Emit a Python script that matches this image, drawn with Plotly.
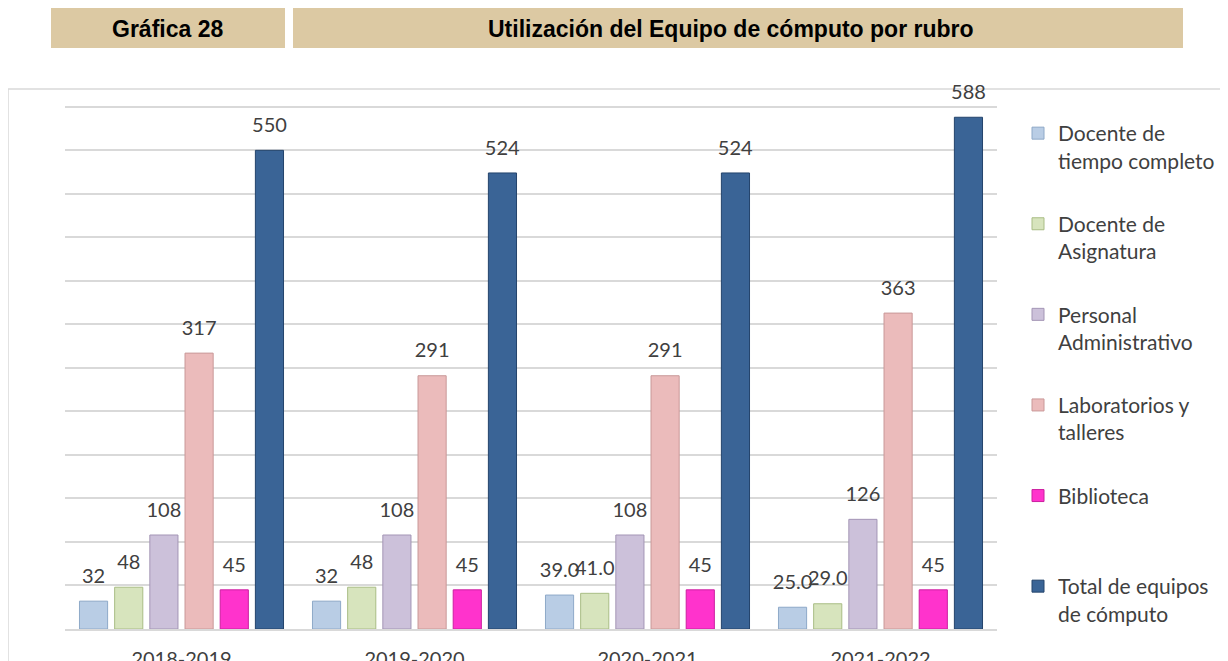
import plotly.graph_objects as go

periods = ["2018-2019", "2019-2020", "2020-2021", "2021-2022"]
series_names = [
    "Docente de<br>tiempo completo",
    "Docente de<br>Asignatura",
    "Personal<br>Administrativo",
    "Laboratorios y<br>talleres",
    "Biblioteca<br> ",
    "Total de equipos<br>de cómputo",
]
docente_tc = [32, 32, 39, 25]
docente_asig = [48, 48, 41, 29]
personal_adm = [108, 108, 108, 126]
laboratorios = [317, 291, 291, 363]
biblioteca = [45, 45, 45, 45]
total = [550, 524, 524, 588]

labels_tc = ["32", "32", "39.0", "25.0"]
labels_asig = ["48", "48", "41.0", "29.0"]
labels_adm = ["108", "108", "108", "126"]
labels_lab = ["317", "291", "291", "363"]
labels_bib = ["45", "45", "45", "45"]
labels_tot = ["550", "524", "524", "588"]

values = [docente_tc, docente_asig, personal_adm, laboratorios, biblioteca, total]
labels = [labels_tc, labels_asig, labels_adm, labels_lab, labels_bib, labels_tot]
fills = ["#B9CDE5", "#D7E4BD", "#CCC1DA", "#EBBBBB", "#FF33CC", "#3A6496"]
edges = ["#8EA9C8", "#A9BD85", "#A395B5", "#C99898", "#CC1FA0", "#24446C"]

# page has an 8px body margin; screen coords -> figure coords
OFF = 8
W, H = 1220, 653
YMAX = 640
L, R, B = 57, 231, 32
UNIT = 522 / 600           # px per value unit (gridlines every 50 -> 43.5 px)
T = round(H - B - YMAX * UNIT)
pw, ph = W - L - R, H - T - B


def px(x):
    return (x - OFF - L) / pw


def py(y):
    return (H - B - (y - OFF)) / ph


fig = go.Figure()
for i in range(6):
    fig.add_trace(go.Bar(
        x=periods, y=values[i], name=series_names[i],
        marker=dict(color=fills[i], line=dict(color=edges[i], width=1)),
        legendgroup=f"g{i}", hoverinfo="x+y",
    ))
# label carriers: transparent copies on an overlaid, slightly shifted axis so
# the value labels sit a little higher above the bars (as in the original)
for i in range(6):
    fig.add_trace(go.Bar(
        x=periods, y=values[i], yaxis="y2",
        text=labels[i], textposition="outside", constraintext="none",
        textfont=dict(family="Lato", size=20, color="#404040"),
        cliponaxis=False, showlegend=False, hoverinfo="skip",
        marker=dict(color="rgba(0,0,0,0)", line=dict(width=0)),
    ))

shapes = [
    dict(type="rect", xref="paper", yref="paper",
         x0=px(8), x1=px(1260), y0=py(89), y1=py(700),
         line=dict(color="#D9D9D9", width=1.5), fillcolor="rgba(0,0,0,0)", layer="below"),
    dict(type="rect", xref="paper", yref="paper",
         x0=px(51), x1=px(285), y0=py(7), y1=py(48),
         line=dict(width=0), fillcolor="#DCC9A3", layer="below"),
    dict(type="rect", xref="paper", yref="paper",
         x0=px(293), x1=px(1183), y0=py(7), y1=py(48),
         line=dict(width=0), fillcolor="#DCC9A3", layer="below"),
]

annotations = [
    dict(text="<b>Gráfica 28</b>", xref="paper", yref="paper", x=px(167), y=py(29),
         showarrow=False, font=dict(family="Liberation Sans", size=23, color="#000000"),
         xanchor="center", yanchor="middle"),
    dict(text="<b>Utilización del Equipo de cómputo por rubro</b>", xref="paper", yref="paper",
         x=px(731), y=py(29), showarrow=False,
         font=dict(family="Liberation Sans", size=23, color="#000000"),
         xanchor="center", yanchor="middle"),
]

fig.update_layout(
    width=W, height=H,
    margin=dict(l=L, r=R, t=T, b=B, autoexpand=False),
    paper_bgcolor="#FFFFFF", plot_bgcolor="#FFFFFF",
    barmode="group", bargap=0.094, bargroupgap=0.2,
    showlegend=True,
    legend=dict(x=px(1018), y=py(113), xanchor="left", yanchor="top",
                font=dict(family="Lato", size=21, color="#404040"),
                tracegroupgap=33, valign="top", bgcolor="rgba(0,0,0,0)"),
    shapes=shapes, annotations=annotations,
    font=dict(family="Lato", color="#404040"),
    yaxis=dict(range=[0, YMAX], dtick=50, showgrid=True,
               gridcolor="#D9D9D9", gridwidth=1.5,
               showticklabels=False, zeroline=False, showline=False,
               fixedrange=True),
    yaxis2=dict(overlaying="y", range=[-13, YMAX - 13], visible=False, fixedrange=True),
)
fig.update_xaxes(showline=True, linecolor="#D9D9D9", linewidth=1.5,
                 ticks="outside", ticklen=11, tickcolor="rgba(0,0,0,0)",
                 tickfont=dict(family="Lato", size=20, color="#404040"))

fig.write_html("out.html")
